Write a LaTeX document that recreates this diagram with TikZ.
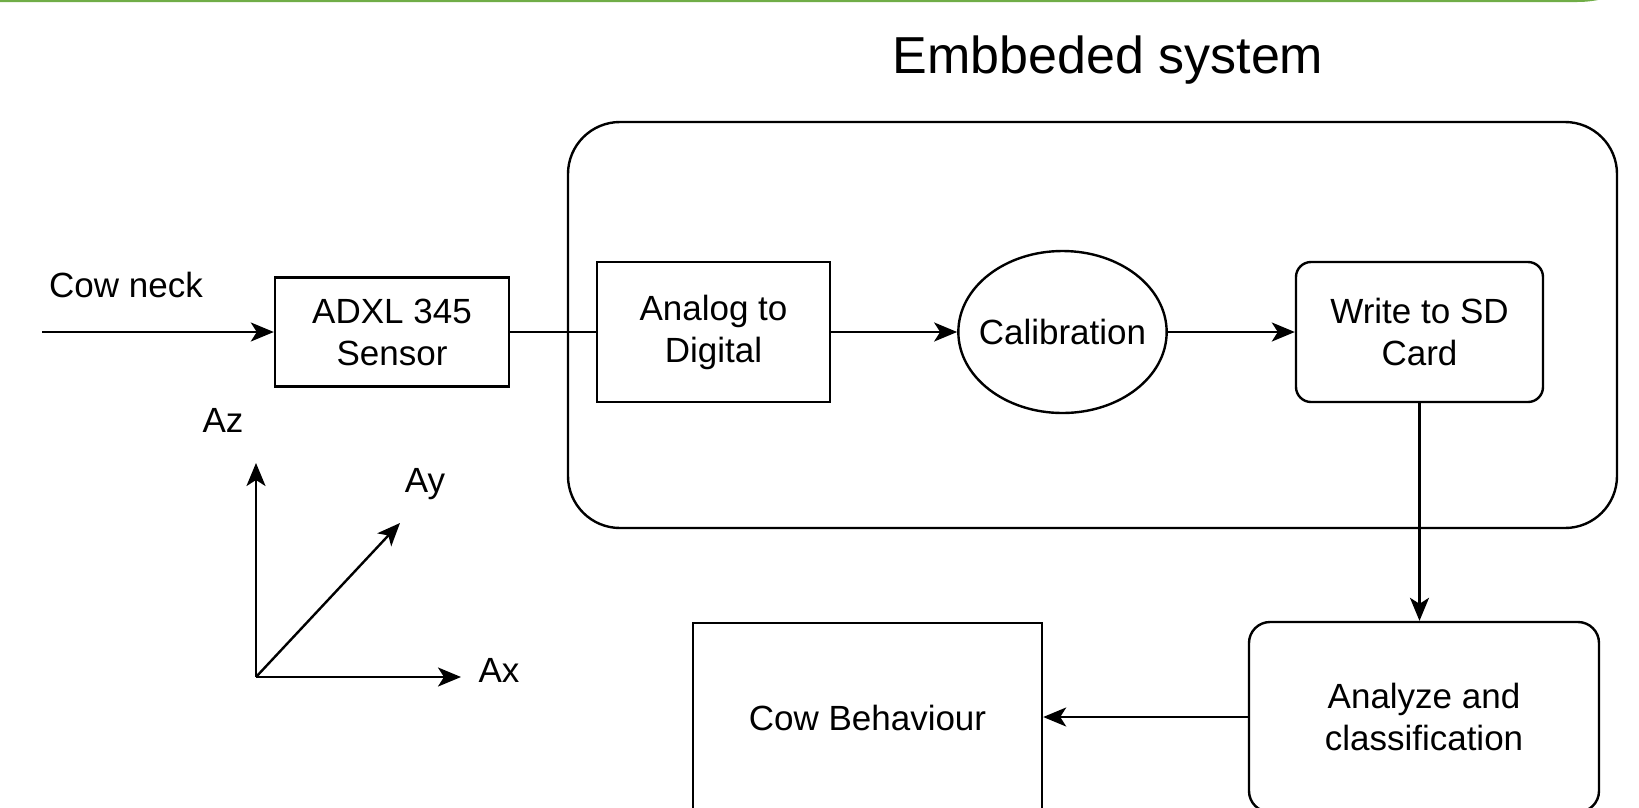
\documentclass[tikz,border=0pt]{standalone}
\usepackage{fontspec}
\setmainfont{Liberation Sans}
\usetikzlibrary{arrows.meta,shapes.geometric,positioning}
\definecolor{framegreen}{RGB}{112,173,71}

\begin{document}
\begin{tikzpicture}[x=1pt,y=-1pt,line width=2.4pt,
    >={Stealth[length=23pt,width=19pt,inset=6pt]},
    every node/.style={font=\fontsize{35}{42}\selectfont,align=center,inner sep=0pt}]
  \tikzstyle{block}=[draw,rectangle]
  \tikzstyle{roundblock}=[draw,rectangle,rounded corners=15pt]
  \useasboundingbox (0,0) rectangle (1639,807);
  \clip (0,0) rectangle (1639,807);
  \draw[framegreen,line width=2pt] (-10,1) -- (1577,1) arc[start angle=90,end angle=30,radius=111];

  \node[draw,rounded corners=52pt,minimum width=1049pt,minimum height=406pt] (embedded) at (1092.5,325) {};
  \node[font=\fontsize{52}{62}\selectfont] (title) at (1108,60) {Embbeded system};

  \coordinate (in) at (42,332);
  \node (cowneck) at (126,285) {Cow neck};
  \node[block,minimum width=234pt,minimum height=109pt] (adxl)  at (392,332)    {ADXL 345\\Sensor};
  \node[block,minimum width=233pt,minimum height=140pt] (adc)   at (713.5,332)  {Analog to\\Digital};
  \node[draw,ellipse,inner xsep=-10pt,minimum width=203pt,minimum height=162pt] (calib) at (1062.5,332) {Calibration};
  \node[roundblock,minimum width=247pt,minimum height=140pt] (sdcard) at (1419.5,332) {Write to SD\\Card};
  \node[roundblock,rounded corners=21pt,minimum width=350pt,minimum height=190pt] (analyze) at (1424,717) {Analyze and\\classification};
  \node[block,anchor=north,minimum width=349pt,minimum height=218pt,text depth=28pt] (behaviour) at (867.5,622) {Cow Behaviour};

  % accelerometer axes
  \coordinate (o)    at (256,677);
  \coordinate (zend) at (256,463);
  \coordinate (yend) at (400,523);
  \coordinate (xend) at (461,677);
  \node (az) at (223,420) {Az};
  \node (ay) at (425,484) {Ay};
  \node (ax) at (499,670) {Ax};

  \path[->] (in)      edge (adxl.west)
            (adxl)    edge[-] (adc)
            (adc)     edge (calib)
            (calib)   edge (sdcard)
            (sdcard.south) edge (sdcard.south |- analyze.north)
            (analyze) edge (behaviour.east |- analyze.west)
            (o)       edge (zend)
            (o)       edge (yend)
            (o)       edge (xend);
\end{tikzpicture}
\end{document}
